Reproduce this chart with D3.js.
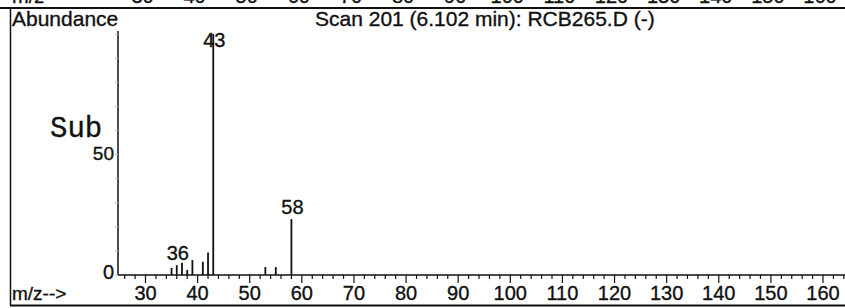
<!DOCTYPE html>
<html>
<head>
<meta charset="utf-8">
<script src="https://cdn.jsdelivr.net/npm/d3@7"></script>
<style>
  html, body { margin: 0; padding: 0; background: #fff; }
  svg { display: block; }
  text { font-family: Arial, "Liberation Sans", sans-serif; fill: #111; stroke: #111; stroke-width: 0.35px; }
</style>
</head>
<body>
<svg id="chart" width="845" height="308"></svg>
<script>
// ---- data ----
const mzValues   = [35, 36, 37, 38, 39, 41, 42, 43, 53, 55, 58];
const abundances = [2.9, 4.1, 5.1, 2.1, 6.2, 5.5, 9.3, 100, 3.3, 3.3, 23.2];
const labeledMz  = [36, 43, 58];
const xTickLabels = [30, 40, 50, 60, 70, 80, 90, 100, 110, 120, 130, 140, 150, 160];
const yTickLabels = [0, 50];
const titleText = "Scan 201 (6.102 min): RCB265.D (-)";

// ---- layout ----
const W = 845, H = 308;
const svg = d3.select("#chart");
const x = d3.scaleLinear().domain([30, 160]).range([145.5, 823]);
const y = d3.scaleLinear().domain([0, 100]).range([275, 34]);
const x0 = 118; // y-axis position
const ink = "#111";

// frame lines
svg.append("line").attr("x1", 0).attr("x2", W).attr("y1", 8).attr("y2", 8)
  .attr("stroke", ink).attr("stroke-width", 2);
svg.append("line").attr("x1", 10.5).attr("x2", 10.5).attr("y1", 8).attr("y2", 306)
  .attr("stroke", ink).attr("stroke-width", 1.5);
svg.append("line").attr("x1", 10).attr("x2", W).attr("y1", 305.5).attr("y2", 305.5)
  .attr("stroke", ink).attr("stroke-width", 2);

// cut-off labels of the previous panel (above the frame)
svg.append("text").attr("x", 12).attr("y", 3).attr("font-size", 20).text("m/z");
svg.selectAll("text.prev").data(xTickLabels).join("text")
  .attr("class", "prev")
  .attr("x", d => x(d) - 3).attr("y", 3)
  .attr("text-anchor", "middle").attr("font-size", 20)
  .text(d => d);

// title + y label
svg.append("text").attr("x", 12).attr("y", 26).attr("font-size", 21).text("Abundance");
svg.append("text").attr("x", 315).attr("y", 26).attr("font-size", 21).text(titleText);

// y axis line
svg.append("line").attr("x1", x0).attr("x2", x0).attr("y1", 31).attr("y2", y(0))
  .attr("stroke", ink).attr("stroke-width", 1.5);
// faint y minor ticks
svg.selectAll("line.ytick").data(d3.range(0, 101, 10)).join("line")
  .attr("class", "ytick")
  .attr("x1", x0 - 3).attr("x2", x0).attr("y1", d => y(d)).attr("y2", d => y(d))
  .attr("stroke", "#bbb").attr("stroke-width", 1);

// y labels
svg.append("text").attr("x", 114).attr("y", y(0) + 4).attr("text-anchor", "end")
  .attr("font-size", 20).text(yTickLabels[0]);
svg.append("text").attr("x", 114).attr("y", y(50) + 5).attr("text-anchor", "end")
  .attr("font-size", 19).text(yTickLabels[1]);
svg.append("text").attr("x", 50).attr("y", 137)
  .style("font-family", "'Courier New', 'Liberation Mono', monospace")
  .attr("font-size", 29).text("Sub");

// x axis line
svg.append("line").attr("x1", x0).attr("x2", W).attr("y1", y(0)).attr("y2", y(0))
  .attr("stroke", ink).attr("stroke-width", 1.5);
// x ticks: minor every 2, major every 10
const minor = d3.range(26, 165, 2);
svg.selectAll("line.xtick").data(minor).join("line")
  .attr("class", "xtick")
  .attr("x1", d => x(d)).attr("x2", d => x(d))
  .attr("y1", y(0)).attr("y2", d => y(0) + (d % 10 === 0 ? 8 : 4))
  .attr("stroke", ink).attr("stroke-width", 1.2);
svg.selectAll("text.xlab").data(xTickLabels).join("text")
  .attr("class", "xlab")
  .attr("x", d => x(d)).attr("y", 300)
  .attr("text-anchor", "middle").attr("font-size", 20)
  .text(d => d);
svg.append("text").attr("x", 12).attr("y", 300).attr("font-size", 19).text("m/z-->");

// peaks
const peaks = mzValues.map((m, i) => ({ m, a: abundances[i] }));
svg.selectAll("line.peak").data(peaks).join("line")
  .attr("class", "peak")
  .attr("x1", d => x(d.m)).attr("x2", d => x(d.m))
  .attr("y1", y(0)).attr("y2", d => y(d.a))
  .attr("stroke", ink).attr("stroke-width", 1.8);

// peak labels
svg.selectAll("text.plab").data(peaks.filter(d => labeledMz.includes(d.m))).join("text")
  .attr("class", "plab")
  .attr("x", d => x(d.m) + 1)
  .attr("y", d => Math.max(y(d.a) - 5, 47))
  .attr("text-anchor", "middle").attr("font-size", 20)
  .text(d => d.m);
</script>
</body>
</html>
